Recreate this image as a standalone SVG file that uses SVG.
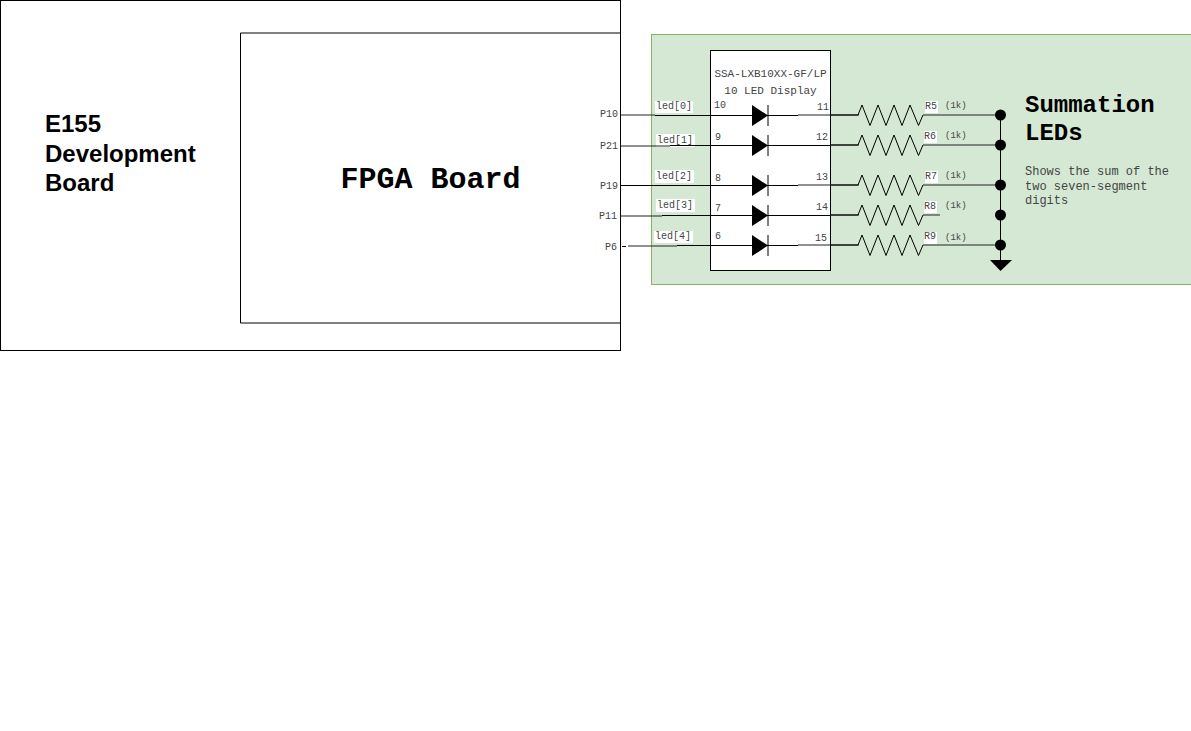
<svg xmlns="http://www.w3.org/2000/svg" width="1191" height="731" viewBox="0 0 1191 731">
<defs>
<style>
text{font-family:"Liberation Mono","Courier New",monospace;fill:#444}
.s{font-size:11px}
.l{font-size:10px}
.bg{fill:#fff}
.w{fill:none;stroke:#000;stroke-width:1}
.g{fill:none;stroke:#222;stroke-width:1}
.h{font-family:"Liberation Mono",monospace;font-weight:bold;fill:#000}
.a{font-family:"Liberation Sans",sans-serif;font-size:24px;font-weight:bold;fill:#000}
</style>
<g id="diode"><path d="M752 -10.500L768 0L752 10.500Z" fill="#000"/><path d="M768 -10.500V10.500" stroke="#000" fill="none"/></g>
<path id="res" d="M0 0H28L32 -10L40 10.500L48 -10L56 10.500L64 -10L72 10.500L80 -10L88.500 10.500L93 0" fill="none" stroke="#000"/>
</defs>
<rect width="1191" height="731" fill="#fff"/>
<g id="board"><rect x="0.500" y="0.500" width="620" height="350" fill="#fff" stroke="#000"/>
<text class="a" x="45" y="132">E155</text>
<text class="a" x="45" y="162">Development</text>
<text class="a" x="45" y="191">Board</text></g>
<g id="fpga"><path d="M620.500 33H240.500V323H620.500" fill="none" stroke="#000"/>
<text class="h" x="430.500" y="188" text-anchor="middle" font-size="30">FPGA Board</text></g>
<g id="summation"><rect x="651.500" y="34.500" width="540" height="250" fill="#d5e8d4" stroke="#82b366"/>
<text class="h" x="1025" y="111.500" font-size="24">Summation</text>
<text class="h" x="1025" y="140" font-size="24">LEDs</text>
<text x="1025" y="175" font-size="12">Shows the sum of the</text>
<text x="1025" y="190" font-size="12">two seven-segment</text>
<text x="1025" y="204" font-size="12">digits</text></g>
<g id="display"><rect x="710.500" y="50.500" width="120" height="220" fill="#fff" stroke="#000"/>
<text class="s" x="770.500" y="77" text-anchor="middle">SSA-LXB10XX-GF/LP</text>
<text class="s" x="770.500" y="94" text-anchor="middle">10 LED Display</text></g>
<g id="label-backgrounds" class="bg"><rect x="655" y="101" width="38" height="12"/><rect x="656" y="134" width="39" height="13"/><rect x="655" y="170" width="39" height="13"/><rect x="656" y="199" width="39" height="13"/><rect x="654" y="231" width="39" height="12"/><rect x="925" y="101" width="13" height="12"/><rect x="924" y="131" width="13" height="12"/><rect x="925" y="171" width="13" height="12"/><rect x="924" y="201" width="13" height="12"/><rect x="924" y="232" width="13" height="12"/></g>
<g id="connectors">
<path class="g" d="M620.500 115H655M798 115H859M620.500 146H670M830 145H859M798 185H859M620.500 216H662M830 215H859M628 246H677M798 245H859"/>
<path class="w" d="M622 246.500H626M655 115.500H798M670 145.500H830M620.500 185.500H798M662 215.500H830M677 245.500H798M1000.500 115V261"/>
<use href="#res" x="830" y="115"/><use href="#res" x="830" y="145"/><use href="#res" x="830" y="185"/><use href="#res" x="830" y="215"/><use href="#res" x="830" y="245"/>
<path class="g" d="M923 115H1000M923 145H1000M923 185H1000M923 215H940M923 245H1000"/>
<path d="M990 260H1012L1000.500 271Z" fill="#000"/>
</g>
<g id="leds"><use href="#diode" y="115.500"/><use href="#diode" y="145.500"/><use href="#diode" y="185.500"/><use href="#diode" y="215.500"/><use href="#diode" y="245.500"/></g>
<g id="junctions" fill="#000"><circle cx="1000.500" cy="115" r="5.500"/><circle cx="1000.500" cy="145" r="5.500"/><circle cx="1000.500" cy="185" r="5.500"/><circle cx="1000.500" cy="215" r="5.500"/><circle cx="1000.500" cy="245" r="5.500"/></g>
<g id="labels">
<text class="l" x="600" y="117">P10</text><text class="l" x="600" y="149">P21</text><text class="l" x="600" y="189">P19</text><text class="l" x="599" y="219">P11</text><text class="l" x="605" y="250">P6</text>
<text class="l" x="656" y="109">led[0]</text><text class="l" x="657" y="143">led[1]</text><text class="l" x="656" y="179">led[2]</text><text class="l" x="657" y="208">led[3]</text><text class="l" x="655" y="239">led[4]</text>
<text class="l" x="714" y="108">10</text><text class="l" x="715" y="140">9</text><text class="l" x="715" y="181">8</text><text class="l" x="715" y="211">7</text><text class="l" x="715" y="239">6</text>
<text class="l" x="817" y="110">11</text><text class="l" x="816" y="140">12</text><text class="l" x="816" y="180">13</text><text class="l" x="816" y="210">14</text><text class="l" x="815" y="241">15</text>
<text class="l" x="925" y="109">R5</text><text class="l" x="924" y="139">R6</text><text class="l" x="925" y="179">R7</text><text class="l" x="924" y="209">R8</text><text class="l" x="924" y="239">R9</text>
<text x="945" y="108" font-size="9">(1k)</text><text x="945" y="138" font-size="9">(1k)</text><text x="945" y="178" font-size="9">(1k)</text><text x="945" y="208" font-size="9">(1k)</text><text x="945" y="240" font-size="9">(1k)</text>
</g>
</svg>
